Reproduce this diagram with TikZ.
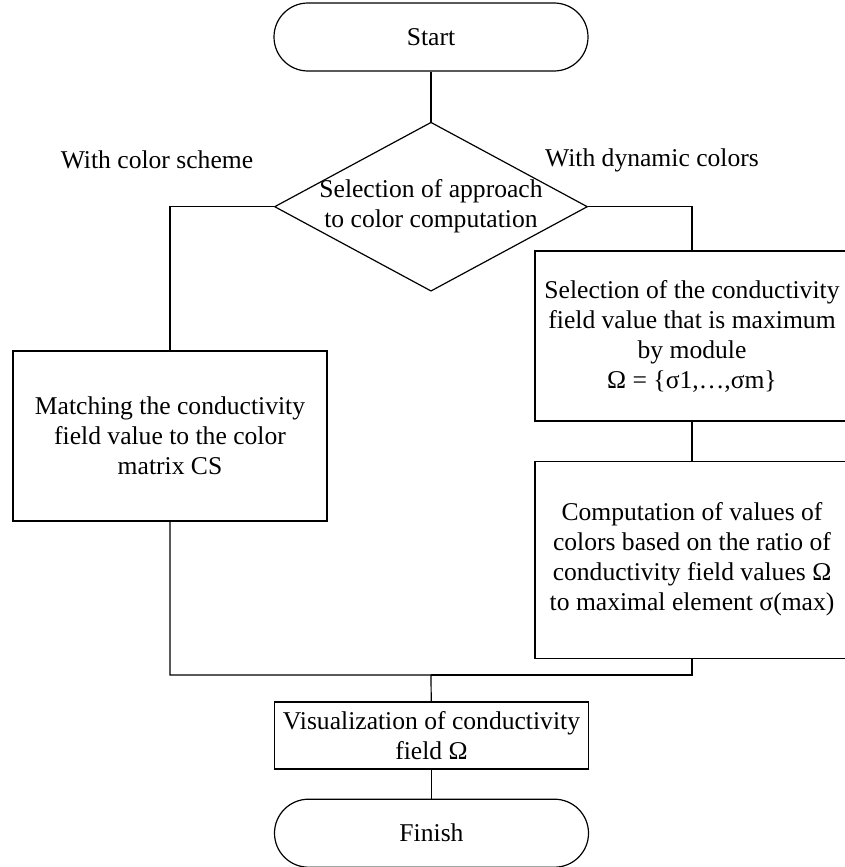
\documentclass[tikz,border=0pt]{standalone}
\usepackage{fontspec}
\setmainfont{Liberation Serif}
\usetikzlibrary{positioning,shapes.geometric}

\begin{document}
\begin{tikzpicture}[x=0.5pt,y=-0.5pt,line width=0.6pt,
box/.style={draw=black,
  align=center,
  minimum width=157pt,
  inner sep=2pt,
  node font=\fontsize{12.8}{15}\selectfont
},
terminal/.style={box, rounded corners=17pt, minimum height=34pt},
decision/.style={diamond, draw=black,
  minimum width=156.5pt, minimum height=84.5pt, inner sep=0pt},
branch/.style={align=center, node font=\fontsize{12.8}{15}\selectfont},
node distance=25pt
]
\useasboundingbox (0,0) rectangle (845,867);

\node (start) [terminal] at (431,37) {Start};

\node (choice) [decision, below=of start] {};
\node (choicetext) [branch] at (choice) {Selection of approach\\to color computation};

\node (lscheme) [branch] at (157,160) {With color scheme};
\node (ldynamic) [branch] at (652,160) {With dynamic colors};

\node (match) [box, minimum height=85pt] at (170,436) {Matching the conductivity\\field value to the color\\matrix CS};

\node (maxval) [box, minimum height=85pt] at (692,336) {Selection of the conductivity\\field value that is maximum\\by module\\Ω  = \{σ1,…,σm\}};

\node (ratio) [box, minimum height=98.5pt, below=19.5pt of maxval] {Computation of values of\\colors based on the ratio of\\conductivity field values Ω\\to maximal element σ(max)};

\node (visual) [box, minimum height=33.5pt] at (431.5,735.5) {Visualization of conductivity\\field Ω};

\node (finish) [terminal, below=14.5pt of visual] {Finish};

\coordinate (merge) at (431,675);

\draw (start) -- (choice);
\draw (choice.west) -| (match);
\draw (choice.east) -| (maxval);
\draw (maxval) -- (ratio);
\draw (match) |- (merge) -- (visual);
\draw (ratio) |- (merge);
\draw (visual) -- (finish);
\end{tikzpicture}
\end{document}
